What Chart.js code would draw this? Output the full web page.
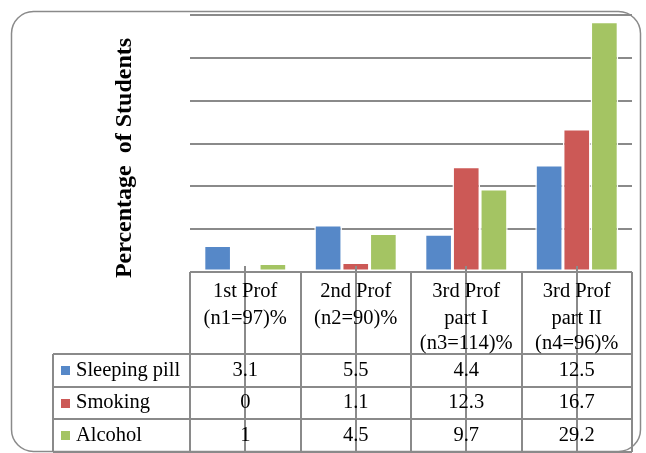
<!DOCTYPE html>
<html>
<head>
<meta charset="utf-8">
<script src="https://cdn.jsdelivr.net/npm/chart.js@4/dist/chart.umd.min.js"></script>
<style>
  html, body { margin: 0; padding: 0; background: #fff; }
  canvas { display: block; }
</style>
</head>
<body>
<canvas id="c" width="646" height="453"></canvas>
<script>
// Year groups (header text, one entry per line)
const categories = [
  ["1st Prof", "(n1=97)%"],
  ["2nd Prof", "(n2=90)%"],
  ["3rd Prof", "part I", "(n3=114)%"],
  ["3rd Prof", "part II", "(n4=96)%"]
];
const seriesNames = ["Sleeping pill", "Smoking", "Alcohol"];
const sleepingPill = [3.1, 5.5, 4.4, 12.5];
const smoking = [0, 1.1, 12.3, 16.7];
const alcohol = [1, 4.5, 9.7, 29.2];
const valueLabels = [
  ["3.1", "5.5", "4.4", "12.5"],
  ["0", "1.1", "12.3", "16.7"],
  ["1", "4.5", "9.7", "29.2"]
];
const yAxisTitle = "Percentage  of Students";

const colors = ["#5688c8", "#cc5956", "#a4c463"];
const lineGray = "#8a8a8a";
const serif = '"Liberation Serif", "Times New Roman", serif';

const tablePlugin = {
  id: "dataTable",
  beforeDraw(chart) {
    const ctx = chart.ctx;
    ctx.save();
    ctx.fillStyle = "#fff";
    ctx.fillRect(0, 0, chart.width, chart.height);
    ctx.restore();
  },
  afterDraw(chart) {
    const ctx = chart.ctx;
    const area = chart.chartArea;
    const xs = chart.scales.x;
    const left = area.left, right = area.right, top0 = area.bottom;
    const n = categories.length;
    const colW = (right - left) / n;
    const headerBottom = top0 + 82;
    const rowH = 32.7;
    const legendLeft = 53;
    const rows = [headerBottom, headerBottom + rowH, headerBottom + 2 * rowH, headerBottom + 3 * rowH];

    ctx.save();
    // outer rounded frame
    ctx.strokeStyle = lineGray;
    ctx.lineWidth = 1.5;
    ctx.beginPath();
    ctx.roundRect(11.5, 11.5, 629, 440, 22);
    ctx.stroke();

    // table grid
    ctx.lineWidth = 2;
    ctx.strokeStyle = lineGray;
    ctx.beginPath();
    ctx.moveTo(left, top0); ctx.lineTo(right, top0);
    for (let i = 0; i <= n; i++) {
      const x = Math.round(left + i * colW);
      ctx.moveTo(x, top0); ctx.lineTo(x, rows[3]);
    }
    rows.forEach(y => { ctx.moveTo(legendLeft, Math.round(y)); ctx.lineTo(right, Math.round(y)); });
    ctx.moveTo(legendLeft, rows[0]); ctx.lineTo(legendLeft, rows[3]);
    // category tick marks running through the table
    for (let i = 0; i < n; i++) {
      const x = Math.round(xs.getPixelForValue(i));
      ctx.moveTo(x, top0 - 6); ctx.lineTo(x, chart.height);
    }
    ctx.stroke();

    // header labels
    ctx.fillStyle = "#000";
    ctx.font = "20.5px " + serif;
    ctx.textAlign = "center";
    ctx.textBaseline = "middle";
    const lineY = [292, 318.5, 343.5];
    categories.forEach((lines, i) => {
      const cx = left + (i + 0.5) * colW;
      lines.forEach((t, j) => ctx.fillText(t, cx, lineY[j]));
    });

    // values
    valueLabels.forEach((vals, r) => {
      const cy = rows[r] + rowH / 2;
      vals.forEach((v, i) => ctx.fillText(v, left + (i + 0.5) * colW, cy));
    });

    // legend column
    ctx.textAlign = "left";
    seriesNames.forEach((name, r) => {
      const cy = rows[r] + rowH / 2;
      ctx.fillStyle = colors[r];
      ctx.fillRect(61, Math.round(cy - 4.5), 9, 9);
      ctx.fillStyle = "#000";
      ctx.fillText(name, 76, cy);
    });

    // y axis title
    ctx.translate(125, 158);
    ctx.rotate(-Math.PI / 2);
    ctx.textAlign = "center";
    ctx.font = "bold 24px " + serif;
    ctx.fillText(yAxisTitle, 0, 0);
    ctx.restore();
  }
};

new Chart(document.getElementById("c"), {
  type: "bar",
  data: {
    labels: categories,
    datasets: [
      { label: seriesNames[0], data: sleepingPill, backgroundColor: colors[0] },
      { label: seriesNames[1], data: smoking, backgroundColor: colors[1] },
      { label: seriesNames[2], data: alcohol, backgroundColor: colors[2] }
    ]
  },
  options: {
    responsive: false,
    animation: false,
    devicePixelRatio: 1,
    layout: { padding: { left: 190, right: 14, top: 15, bottom: 181 } },
    datasets: {
      bar: {
        barPercentage: 1,
        categoryPercentage: 0.75,
        borderColor: "#ffffff",
        borderWidth: 1.5,
        borderSkipped: false
      }
    },
    plugins: { legend: { display: false }, tooltip: { enabled: false }, title: { display: false } },
    scales: {
      x: { display: false },
      y: {
        min: 0, max: 30,
        ticks: { display: false, stepSize: 5 },
        grid: { color: lineGray, lineWidth: 2, drawTicks: false },
        border: { display: false },
        afterFit(scale) { scale.width = 0; }
      }
    }
  },
  plugins: [tablePlugin]
});
</script>
</body>
</html>
